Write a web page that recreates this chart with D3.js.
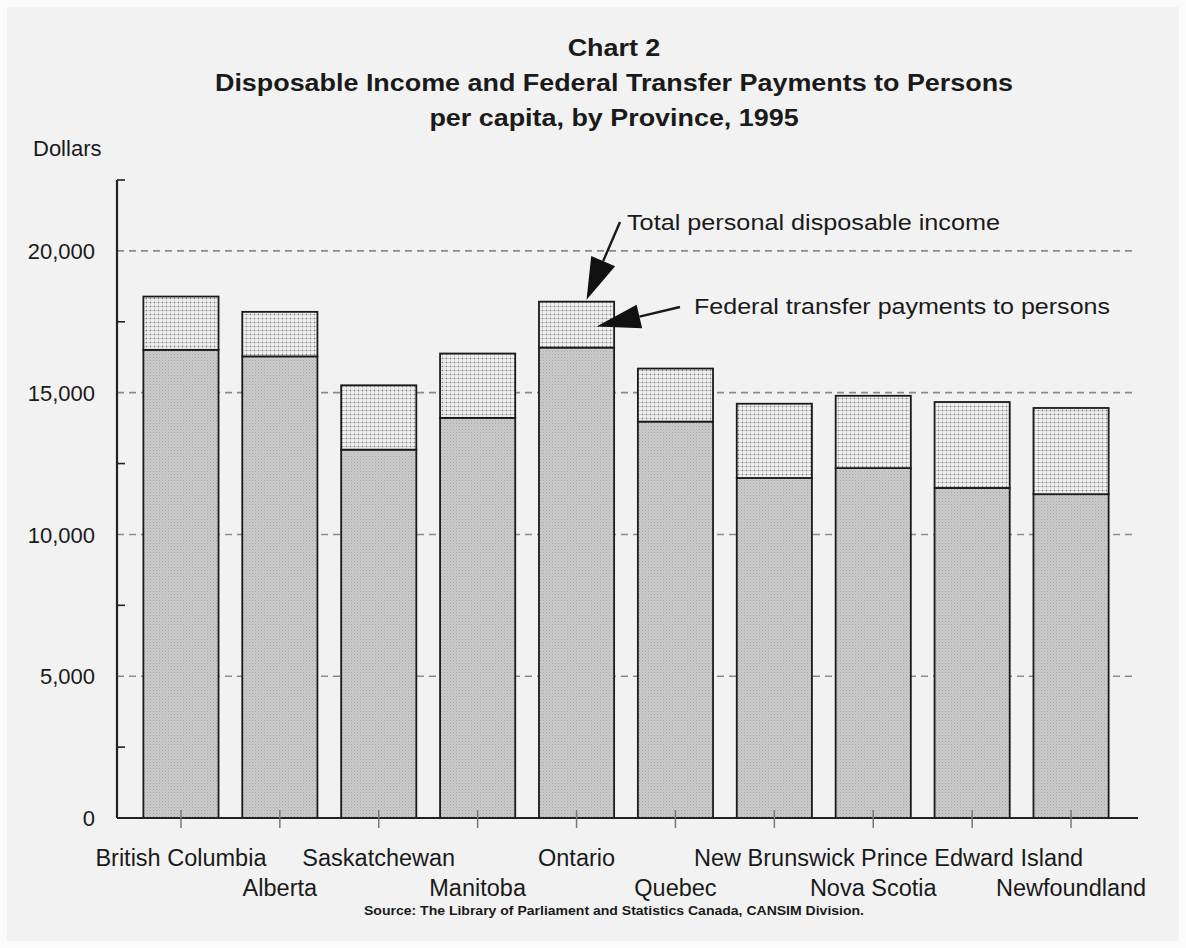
<!DOCTYPE html>
<html>
<head>
<meta charset="utf-8">
<script src="https://cdn.jsdelivr.net/npm/d3@7"></script>
<style>
  html, body { margin: 0; padding: 0; background: #fbfbfb; }
  svg { display: block; font-family: "Liberation Sans", Arial, sans-serif; }
</style>
</head>
<body>
<svg id="chart" width="1186" height="948"></svg>
<script>
// ---- data ----
const provinces = ["British Columbia", "Alberta", "Saskatchewan", "Manitoba", "Ontario",
                   "Quebec", "New Brunswick", "Nova Scotia", "Prince Edward Island", "Newfoundland"];
// income excluding federal transfers (lower segment)
const incomeExTransfers = [16510, 16280, 12990, 14110, 16590, 13980, 11990, 12340, 11640, 11420];
// total personal disposable income (bar top)
const totalIncome = [18390, 17850, 15260, 16380, 18210, 15850, 14610, 14890, 14670, 14460];
const majorTicks = [0, 5000, 10000, 15000, 20000];
const minorTicks = [2500, 7500, 12500, 17500, 22500];
const titleLines = ["Chart 2", "Disposable Income and Federal Transfer Payments to Persons", "per capita, by Province, 1995"];
const yAxisTitle = "Dollars";
const annotTotal = "Total personal disposable income";
const annotTransfer = "Federal transfer payments to persons";
const sourceNote = "Source:  The Library of Parliament and Statistics Canada, CANSIM Division.";

const svg = d3.select("#chart");
const W = 1186, H = 948;

// background (scanned paper look)
svg.append("rect").attr("x", 0).attr("y", 0).attr("width", W).attr("height", H).attr("fill", "#fbfbfb");
svg.append("rect").attr("x", 7).attr("y", 7).attr("width", W - 14).attr("height", H - 14).attr("fill", "#f2f2f2");

// patterns
const defs = svg.append("defs");
const pLow = defs.append("pattern").attr("id", "pLow").attr("patternUnits", "userSpaceOnUse")
  .attr("width", 3).attr("height", 3);
pLow.append("rect").attr("width", 3).attr("height", 3).attr("fill", "#cbcbcb");
pLow.append("rect").attr("x", 0).attr("y", 0).attr("width", 1).attr("height", 1).attr("fill", "#a9a9a9");
pLow.append("rect").attr("x", 1.5).attr("y", 1.5).attr("width", 1).attr("height", 1).attr("fill", "#b5b5b5");

const pTop = defs.append("pattern").attr("id", "pTop").attr("patternUnits", "userSpaceOnUse")
  .attr("width", 4).attr("height", 4);
pTop.append("rect").attr("width", 4).attr("height", 4).attr("fill", "#eeeeee");
pTop.append("rect").attr("x", 0).attr("y", 2).attr("width", 4).attr("height", 1).attr("fill", "#cdcdcd");
pTop.append("rect").attr("x", 2).attr("y", 0).attr("width", 1).attr("height", 4).attr("fill", "#d4d4d4");
pTop.append("rect").attr("x", 2).attr("y", 2).attr("width", 1).attr("height", 1).attr("fill", "#7a7a7a");

// scales
const axisLeft = 117, axisRight = 1138, yBottom = 818;
const y = d3.scaleLinear().domain([0, 22500]).range([yBottom, 180]);
const x = d3.scaleBand().domain(provinces).range([131.5, 1120.5]).paddingInner(0.24).paddingOuter(0.12);

// gridlines (dashed) at major ticks
svg.append("g").selectAll("line").data(majorTicks.filter(d => d > 0)).join("line")
  .attr("x1", axisLeft).attr("x2", 1136)
  .attr("y1", d => y(d)).attr("y2", d => y(d))
  .attr("stroke", "#8a8a8a").attr("stroke-width", 1.6).attr("stroke-dasharray", "7,5");

// bars
const bars = svg.append("g");
bars.selectAll("rect.low").data(provinces).join("rect").attr("class", "low")
  .attr("x", d => x(d)).attr("width", x.bandwidth())
  .attr("y", (d, i) => y(incomeExTransfers[i])).attr("height", (d, i) => y(0) - y(incomeExTransfers[i]))
  .attr("fill", "url(#pLow)").attr("stroke", "#1a1a1a").attr("stroke-width", 1.8);
bars.selectAll("rect.top").data(provinces).join("rect").attr("class", "top")
  .attr("x", d => x(d)).attr("width", x.bandwidth())
  .attr("y", (d, i) => y(totalIncome[i])).attr("height", (d, i) => y(incomeExTransfers[i]) - y(totalIncome[i]))
  .attr("fill", "url(#pTop)").attr("stroke", "#1a1a1a").attr("stroke-width", 1.8);

// y axis
const yAxisG = svg.append("g").attr("transform", `translate(${axisLeft},0)`);
yAxisG.call(d3.axisLeft(y).tickValues(majorTicks).tickSize(0).tickPadding(22)
  .tickFormat(d3.format(",")))
  .call(g => g.select(".domain").remove());
yAxisG.selectAll("text").attr("font-size", 22).attr("fill", "#1a1a1a")
  .attr("font-family", "Liberation Sans, Arial, sans-serif").attr("dy", "0.35em");
svg.append("g").selectAll("line").data(minorTicks).join("line")
  .attr("x1", axisLeft).attr("x2", axisLeft + 8)
  .attr("y1", d => y(d)).attr("y2", d => y(d))
  .attr("stroke", "#222").attr("stroke-width", 1.6);
svg.append("line").attr("x1", axisLeft).attr("x2", axisLeft)
  .attr("y1", y(22500)).attr("y2", yBottom).attr("stroke", "#222").attr("stroke-width", 2.2);

// x axis
svg.append("line").attr("x1", axisLeft).attr("x2", axisRight).attr("y1", yBottom).attr("y2", yBottom)
  .attr("stroke", "#222").attr("stroke-width", 2.2);
svg.append("g").selectAll("line").data(provinces).join("line")
  .attr("x1", d => x(d) + x.bandwidth() / 2).attr("x2", d => x(d) + x.bandwidth() / 2)
  .attr("y1", yBottom - 8).attr("y2", yBottom + 10)
  .attr("stroke", "#777").attr("stroke-width", 1.5);
svg.append("g").selectAll("text").data(provinces).join("text")
  .attr("x", d => x(d) + x.bandwidth() / 2)
  .attr("y", (d, i) => i % 2 === 0 ? 866 : 896)
  .attr("text-anchor", "middle").attr("font-size", 23.5).attr("fill", "#1a1a1a")
  .text(d => d);

// titles (slightly wide lettering, as in the scan)
svg.append("g").attr("transform", "translate(614,0) scale(1.17,1)")
  .selectAll("text").data(titleLines).join("text")
  .attr("x", 0).attr("y", (d, i) => 56 + i * 35)
  .attr("text-anchor", "middle").attr("font-size", 23).attr("font-weight", "bold").attr("fill", "#1a1a1a")
  .text(d => d);
svg.append("text").attr("x", 33).attr("y", 156).attr("font-size", 22).attr("fill", "#1a1a1a").text(yAxisTitle);

// annotations
const oi = provinces.indexOf("Ontario");
const ocx = x("Ontario") + x.bandwidth() / 2;
function arrow(x0, y0, x1, y1, headLen, headHalf) {
  const ang = Math.atan2(y1 - y0, x1 - x0);
  const bx = x1 - headLen * Math.cos(ang), by = y1 - headLen * Math.sin(ang);
  const px = -Math.sin(ang) * headHalf, py = Math.cos(ang) * headHalf;
  svg.append("line").attr("x1", x0).attr("y1", y0).attr("x2", bx).attr("y2", by)
    .attr("stroke", "#1a1a1a").attr("stroke-width", 2.4);
  svg.append("path").attr("d", `M${x1},${y1}L${bx + px},${by + py}L${bx - px},${by - py}Z`).attr("fill", "#111");
}
arrow(620, 222, ocx + 10, y(totalIncome[oi]) - 2, 42, 13);
arrow(680, 307, ocx + 20, y((totalIncome[oi] + incomeExTransfers[oi]) / 2) + 2, 44, 12);

svg.append("text").attr("x", 627).attr("y", 230).attr("font-size", 22).attr("fill", "#1a1a1a")
  .attr("textLength", 373).attr("lengthAdjust", "spacingAndGlyphs").text(annotTotal);
svg.append("text").attr("x", 694).attr("y", 314).attr("font-size", 22).attr("fill", "#1a1a1a")
  .attr("textLength", 416).attr("lengthAdjust", "spacingAndGlyphs").text(annotTransfer);

svg.append("text").attr("x", 364).attr("y", 915).attr("font-size", 12).attr("font-weight", "bold").attr("fill", "#1a1a1a")
  .attr("textLength", 500).attr("lengthAdjust", "spacingAndGlyphs").text(sourceNote);
</script>
</body>
</html>
